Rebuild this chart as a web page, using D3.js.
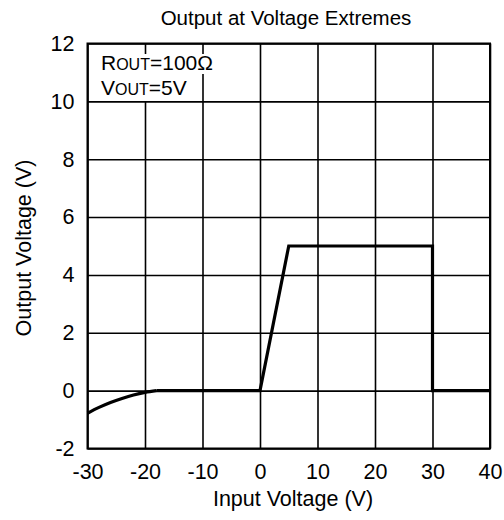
<!DOCTYPE html>
<html><head><meta charset="utf-8">
<script src="https://cdn.jsdelivr.net/npm/d3@7"></script>
<style>body{margin:0;background:#fff}svg{display:block}text{font-family:"Liberation Sans",Arial,sans-serif;fill:#000}</style>
</head><body><svg id="c" width="504" height="520"></svg>
<script>
const xTicks = [-30, -20, -10, 0, 10, 20, 30, 40];
const yTicks = [-2, 0, 2, 4, 6, 8, 10, 12];
const inputV  = [-30, -28, -26, -24, -22, -20, -18, 0, 5, 30, 30, 40];
const outputV = [-0.78, -0.58, -0.41, -0.27, -0.15, -0.06, 0, 0, 5, 5, 0, 0];
const title = "Output at Voltage Extremes";
const xTitle = "Input Voltage (V)";
const yTitle = "Output Voltage (V)";

const svg = d3.select("#c");
const FF = '"Liberation Sans",Arial,sans-serif';
const L = 87.5, R = 490, T = 43.5, B = 448.5;
const x = d3.scaleLinear().domain([-30, 40]).range([L, R]);
const y = d3.scaleLinear().domain([-2, 12]).range([B, T]);
const fmt = d => String(d);

// grid
const gx = svg.append("g").attr("transform", `translate(0,${B})`)
  .call(d3.axisBottom(x).tickValues(xTicks).tickSize(-(B - T)).tickPadding(15).tickFormat(fmt));
const gy = svg.append("g").attr("transform", `translate(${L},0)`)
  .call(d3.axisLeft(y).tickValues(yTicks).tickSize(-(R - L)).tickPadding(13).tickFormat(fmt));
[gx, gy].forEach(g => {
  g.select(".domain").remove();
  g.selectAll("line").attr("stroke", "#000").attr("stroke-width", 1.6);
  g.selectAll("text").attr("font-size", 21.5).attr("font-family", FF).attr("fill", "#000");
});
gx.selectAll("text").attr("dy", "0.71em");
svg.append("rect").attr("x", L).attr("y", T).attr("width", R - L).attr("height", B - T)
  .attr("fill", "none").attr("stroke", "#000").attr("stroke-width", 2);

// data
const pts = inputV.map((v, i) => i);
svg.append("path").datum(pts.slice(0, 7))
  .attr("d", d3.line().x(i => x(inputV[i])).y(i => y(outputV[i])).curve(d3.curveMonotoneX))
  .attr("fill", "none").attr("stroke", "#000").attr("stroke-width", 3.2);
svg.append("path").datum(pts.slice(6))
  .attr("d", d3.line().x(i => x(inputV[i])).y(i => y(outputV[i])))
  .attr("fill", "none").attr("stroke", "#000").attr("stroke-width", 3.2).attr("stroke-linejoin", "miter");

// annotation
const ann = svg.append("g").attr("font-size", 21);
const a1 = ann.append("text").attr("x", 101).attr("y", 70);
a1.append("tspan").text("R");
a1.append("tspan").attr("font-size", 16).text("OUT");
a1.append("tspan").text("=100Ω");
const a2 = ann.append("text").attr("x", 101).attr("y", 95);
a2.append("tspan").text("V");
a2.append("tspan").attr("font-size", 16).text("OUT");
a2.append("tspan").text("=5V");
const b1 = a1.node().getBBox(), b2 = a2.node().getBBox();
ann.insert("rect", "text").attr("x", b1.x - 2).attr("y", 54).attr("width", b1.width + 4).attr("height", 20).attr("fill", "#fff");
ann.insert("rect", "text").attr("x", b2.x - 2).attr("y", 74).attr("width", b2.width + 4).attr("height", 27).attr("fill", "#fff");

// titles
svg.append("text").attr("x", 286).attr("y", 25).attr("text-anchor", "middle").attr("font-size", 20.5).text(title);
svg.append("text").attr("x", 293).attr("y", 506).attr("text-anchor", "middle").attr("font-size", 21.5).text(xTitle);
svg.append("text").attr("transform", "translate(31,248) rotate(-90)").attr("text-anchor", "middle").attr("font-size", 21.5).text(yTitle);
</script></body></html>
